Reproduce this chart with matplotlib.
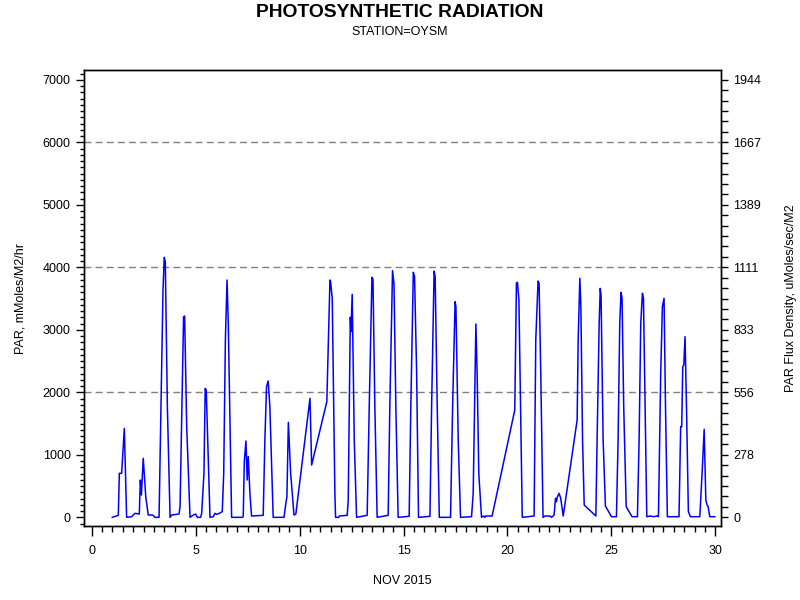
import numpy as np
import matplotlib
matplotlib.use("Agg")
import matplotlib.pyplot as plt
from matplotlib.ticker import MultipleLocator

plt.rcParams['font.family'] = ['Liberation Sans', 'DejaVu Sans']

# hourly PAR trace for November 2015 (day of month, mMoles/M2/hr)
day = [0.99, 1.28, 1.33, 1.44, 1.57, 1.68, 1.92, 2.08, 2.29, 2.34, 2.39, 2.48, 2.60, 2.72,
       2.93, 3.05, 3.24, 3.43, 3.49, 3.54, 3.64, 3.77, 3.85, 4.20, 4.25, 4.42, 4.47, 4.57,
       4.73, 4.89, 5.00, 5.08, 5.24, 5.29, 5.40, 5.46, 5.51, 5.69, 5.85, 5.93, 6.01, 6.14,
       6.28, 6.35, 6.43, 6.51, 6.57, 6.73, 7.26, 7.29, 7.34, 7.42, 7.48, 7.53, 7.61, 7.69,
       8.25, 8.33, 8.41, 8.49, 8.57, 8.73, 9.25, 9.34, 9.39, 9.46, 9.57, 9.73, 9.82, 10.50,
       10.58, 11.31, 11.46, 11.49, 11.57, 11.70, 11.73, 11.88, 11.91, 12.29, 12.34, 12.44,
       12.47, 12.53, 12.63, 12.74, 13.25, 13.35, 13.48, 13.53, 13.62, 13.73, 14.26, 14.34,
       14.47, 14.54, 14.63, 14.74, 15.27, 15.35, 15.47, 15.53, 15.63, 15.72, 16.27, 16.35,
       16.47, 16.52, 16.62, 16.72, 17.26, 17.36, 17.48, 17.52, 17.63, 17.74, 18.27, 18.35,
       18.48, 18.54, 18.62, 18.75, 18.83, 18.91, 18.94, 19.26, 20.35, 20.43, 20.48, 20.55,
       20.71, 21.28, 21.36, 21.47, 21.52, 21.60, 21.71, 21.80, 22.04, 22.12, 22.24, 22.31,
       22.36, 22.39, 22.48, 22.56, 22.68, 23.35, 23.40, 23.48, 23.53, 23.61, 23.69, 24.25,
       24.31, 24.41, 24.46, 24.50, 24.60, 24.71, 25.00, 25.24, 25.32, 25.40, 25.46, 25.51,
       25.59, 25.71, 25.99, 26.25, 26.33, 26.41, 26.49, 26.54, 26.62, 26.70, 26.88, 27.04,
       27.20, 27.26, 27.37, 27.45, 27.53, 27.60, 27.69, 28.25, 28.33, 28.38, 28.43, 28.48,
       28.54, 28.61, 28.70, 28.80, 29.25, 29.36, 29.46, 29.54, 29.60, 29.65, 29.73, 29.97]
par = [0, 32, 704, 704, 1424, 0, 10, 64, 53, 597, 357, 944, 331, 37,
       37, 0, 0, 3637, 4160, 4090, 1770, 0, 37, 53, 171, 3210, 3221, 1450,
       0, 37, 53, 0, 0, 64, 704, 2064, 2037, 0, 10, 64, 48, 64,
       91, 704, 2837, 3797, 3104, 0, 0, 21, 890, 1221, 597, 971, 384, 21,
       32, 1237, 2091, 2181, 1771, 0, 0, 224, 331, 1520, 704, 37, 53, 1904,
       837, 1851, 3797, 3770, 3504, 331, 0, 0, 21, 32, 277, 3200,
       2970, 3568, 1237, 0, 32, 1771, 3840, 3808, 1771, 0, 32, 1771,
       3947, 3744, 1771, 0, 16, 1771, 3920, 3850, 2304, 0, 16, 1771,
       3941, 3850, 1771, 0, 0, 1771, 3450, 3370, 1237, 0, 10, 384,
       3093, 2304, 704, 0, 21, 0, 21, 21, 1717, 3744, 3760, 3477,
       0, 21, 2837, 3781, 3744, 2304, 0, 21, 21, 0, 37, 304,
       251, 320, 384, 304, 21, 1557, 2837, 3824, 3370, 1237, 197, 21,
       1237, 3104, 3664, 3557, 1237, 181, 10, 10, 1237, 3104, 3600, 3504,
       1771, 171, 10, 10, 1237, 3104, 3584, 3504, 1771, 10, 21, 10,
       21, 10, 2304, 3370, 3504, 1771, 10, 10, 1451, 1451, 2411, 2437,
       2891, 1771, 91, 10, 10, 704, 1408, 277, 197, 171, 10, 10]

left_ticks = [0, 1000, 2000, 3000, 4000, 5000, 6000, 7000]
grid_levels = [2000, 4000, 6000]
flux_factor = 3.6  # mMoles/M2/hr -> uMoles/sec/M2

fig = plt.figure(figsize=(8, 6), dpi=100)
ax = fig.add_axes([0.105, 0.1233, 0.796, 0.76])

for g in grid_levels:
    ax.axhline(g, color='#808080', lw=1.0, ls=(0, (5, 3)), zorder=1)
ax.plot(day, par, color='#0000ff', lw=1.1, zorder=2)

ax.set_xlim(-0.37, 30.26)
ax.set_ylim(-139, 7157)
ax.set_xticks([0, 5, 10, 15, 20, 25, 30])
ax.xaxis.set_minor_locator(MultipleLocator(0.5))
ax.set_yticks(left_ticks)
ax.yaxis.set_minor_locator(MultipleLocator(100))
ax.tick_params(axis='x', which='major', length=7, width=1, labelsize=9, pad=7)
ax.tick_params(axis='x', which='minor', length=4, width=1)
ax.tick_params(axis='y', which='major', length=5.5, width=1, labelsize=9, pad=4)
ax.tick_params(axis='y', which='minor', length=3, width=1)

ax2 = ax.twinx()
ax2.set_ylim(-139 / flux_factor, 7157 / flux_factor)
ax2.set_yticks([t / flux_factor for t in left_ticks],
               labels=['%.0f' % (t / flux_factor) for t in left_ticks])
ax2.yaxis.set_minor_locator(MultipleLocator(1000 / 6 / flux_factor))
ax2.tick_params(axis='y', which='major', length=5, width=1, labelsize=9, pad=4)
ax2.tick_params(axis='y', which='minor', length=5, width=1)

for a in (ax, ax2):
    for s in a.spines.values():
        s.set_linewidth(1.0)

fig.text(0.5, 0.9717, 'PHOTOSYNTHETIC RADIATION', ha='center', va='baseline',
         fontsize=13.9, fontweight='bold')
fig.text(0.5, 0.9417, 'STATION=OYSM', ha='center', va='baseline', fontsize=9)
fig.text(0.503, 0.0267, 'NOV 2015', ha='center', va='baseline', fontsize=9)
fig.text(0.026, 0.503, 'PAR, mMoles/M2/hr', rotation=90, ha='center', va='center', fontsize=9)
fig.text(0.9885, 0.503, 'PAR Flux Density, uMoles/sec/M2', rotation=90,
         ha='center', va='center', fontsize=9)

fig.savefig('out.png', dpi=100)
